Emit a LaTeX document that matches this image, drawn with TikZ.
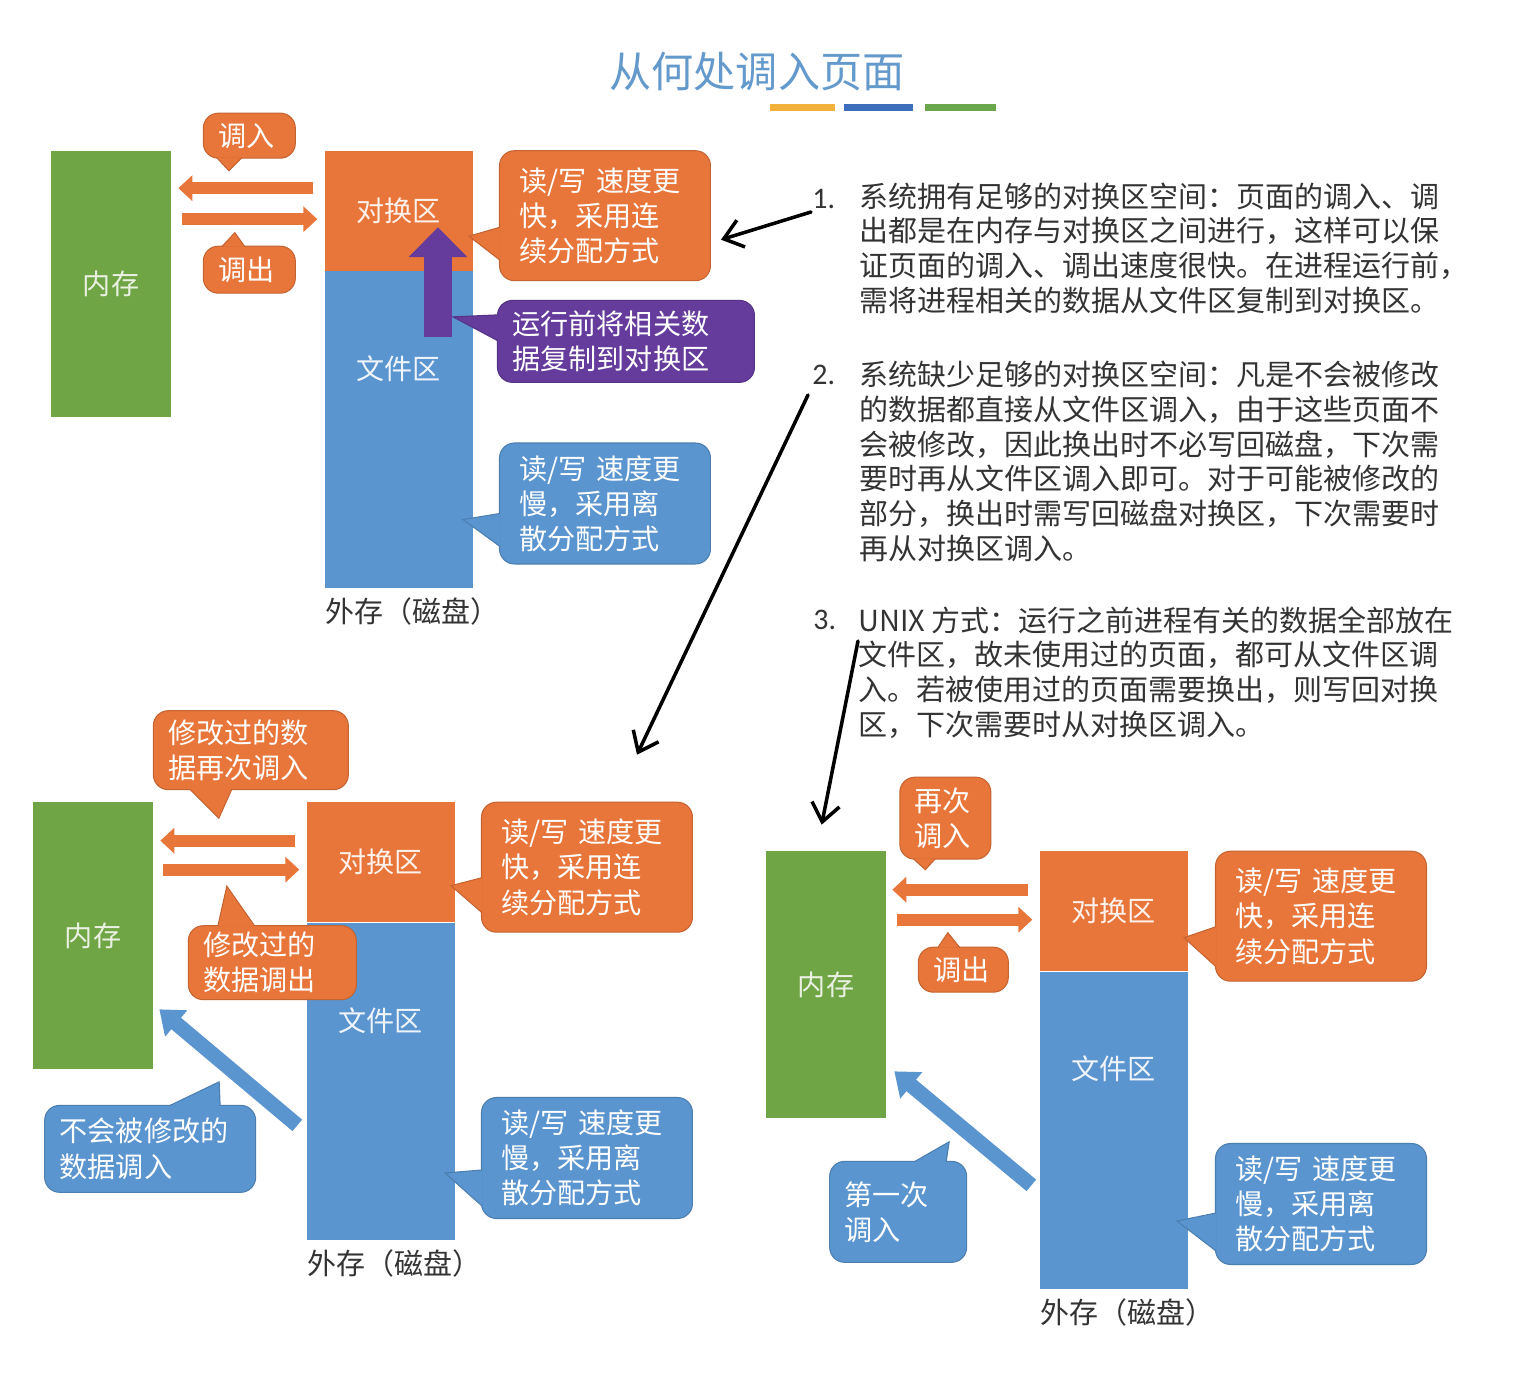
\documentclass[tikz,border=0pt]{standalone}
\usepackage{fontspec}
\setmainfont{Noto Sans CJK SC}
\newfontfamily\numfont{Carlito}
\usetikzlibrary{positioning,arrows.meta,calc}
\definecolor{memgreen}{HTML}{70A545}
\definecolor{swaporange}{HTML}{E8763A}
\definecolor{fileblue}{HTML}{5A95CF}
\definecolor{copypurple}{HTML}{653C9C}
\definecolor{titleblue}{HTML}{6499CC}
\definecolor{bodytext}{HTML}{333333}
\definecolor{baryellow}{HTML}{F2B13A}
\definecolor{barblue}{HTML}{3D6DBB}
\definecolor{bargreen}{HTML}{6AA64B}

\begin{document}
\begin{tikzpicture}[
    x=0.02cm, y=-0.02cm,
    memblock/.style={fill=memgreen, minimum width=2.4cm, minimum height=5.34cm, text=white!85!memgreen, font=\fontsize{16}{19}\selectfont},
    swapblock/.style={fill=swaporange, minimum width=2.96cm, minimum height=2.4cm, text=white!90!swaporange, font=\fontsize{16}{19}\selectfont},
    fileblock/.style={fill=fileblue, minimum width=2.96cm, minimum height=6.34cm},
    filetext/.style={text=white!90!fileblue, font=\fontsize{16}{19}\selectfont},
    disklabel/.style={text=bodytext, font=\fontsize{16.5}{19}\selectfont, xshift=0.28cm},
    note/.style={fill=#1, draw=#1!85!black, line width=0.6pt, rounded corners=3mm, align=left, text=white, font=\fontsize{16}{20}\selectfont, inner xsep=0.3cm, inner ysep=0pt},
    fastnote/.style={note=swaporange, inner xsep=0.4cm, text width=3.42cm, minimum height=2.6cm},
    slownote/.style={note=fileblue, inner xsep=0.4cm, text width=3.42cm, minimum height=2.42cm},
    notetip/.style={fill=#1, draw=#1!85!black, line width=0.6pt},
    moveflat/.style={line width=0.24cm, draw=swaporange, -{Triangle[length=0.28cm, width=0.5cm]}},
    loadslant/.style={line width=0.3cm, draw=fileblue, -{Triangle[length=0.44cm, width=0.66cm]}},
    copyup/.style={line width=0.56cm, draw=copypurple, -{Triangle[length=0.6cm, width=1.14cm]}},
    handarrow/.style={line width=2pt, draw=black, line cap=round, line join=round, -{Straight Barb[length=0.36cm, width=0.56cm]}},
    itemnum/.style={anchor=base west, inner sep=0pt, text=bodytext, font=\numfont\fontsize{17}{20}\selectfont},
    itemtext/.style={anchor=base west, align=left, inner sep=0pt, text=bodytext, font=\fontsize{16.5}{19.7}\selectfont}
]
    \fill[white] (0,0) rectangle (1515,1393);
    \useasboundingbox (0,0) rectangle (1515,1393);

    % Title
    \node[text=titleblue, font=\fontsize{24}{28}\selectfont] (title) at (757,72) {从何处调入页面};
    \fill[baryellow] (770,104) rectangle (835,111);
    \fill[barblue] (844,104) rectangle (913,111);
    \fill[bargreen] (925,104) rectangle (996,111);

    % Panel 1: enough swap space
    \node[memblock] (mem1) at (111,284) {内存};
    \node[swapblock, right=3.06cm of mem1.north east, anchor=north west] (swap1) {对换区};
    \node[fileblock, below=0pt of swap1] (file1) {};
    \node[filetext] (ftext1) at ($(file1.north)+(0,98)$) {文件区};
    \node[disklabel, below=0.06cm of file1] (disk1) {外存（磁盘）};

    \node[fastnote, right=0.52cm of swap1.north east, anchor=north west] (fast1) {读/写 速度更\\快，采用连\\续分配方式};
    \node[slownote, above right=0.48cm and 0.52cm of file1.south east] (slow1) {读/写 速度更\\慢，采用离\\散分配方式};
    \node[note=copypurple, text width=4.54cm, minimum height=1.64cm, below right=0.58cm and 0.48cm of file1.north east] (copy1) {运行前将相关数\\据复制到对换区};
    \node[note=swaporange, text width=1.24cm, minimum height=0.9cm] (in1) at ($(mem1.north east)+(78,-14.5)$) {调入};
    \node[note=swaporange, text width=1.24cm, minimum height=0.94cm] (out1) at ($(mem1.north east)+(78,119.5)$) {调出};

    \filldraw[notetip=swaporange] ($(fast1.north west)+(1,77)$) -- ($(swap1.north east)+(-4,86)$) -- ($(fast1.north west)+(1,110)$);
    \filldraw[notetip=fileblue] ($(slow1.north west)+(1,71)$) -- ($(file1.south east)+(-10,-69)$) -- ($(slow1.north west)+(1,104)$);
    \filldraw[notetip=copypurple] ($(copy1.north west)+(1,15)$) -- ($(file1.north east)+(-20,46)$) -- ($(copy1.north west)+(1,41)$);
    \filldraw[notetip=swaporange] ($(in1.south west)+(14,-1)$) -- ($(in1.south west)+(26,12)$) -- ($(in1.south west)+(39,-1)$);
    \filldraw[notetip=swaporange] ($(out1.north west)+(19,1)$) -- ($(out1.north west)+(32,-13)$) -- ($(out1.north west)+(42,1)$);

    \draw[moveflat] ($(swap1.north west)+(-11,38)$) -- ($(mem1.north east)+(7,38)$);
    \draw[moveflat] ($(mem1.north east)+(11,69)$) -- ($(swap1.north west)+(-7,69)$);
    \draw[copyup] ($(file1.north east)+(-35,66)$) -- ($(swap1.north east)+(-35,77)$);

    % Panel 2: not enough swap space
    \node[memblock] (mem2) at (93,935.5) {内存};
    \node[swapblock, right=3.06cm of mem2.north east, anchor=north west] (swap2) {对换区};
    \node[fileblock, below=0pt of swap2] (file2) {};
    \node[filetext] (ftext2) at ($(file2.north)+(0,98)$) {文件区};
    \node[disklabel, below=0.06cm of file2] (disk2) {外存（磁盘）};

    \node[fastnote, right=0.52cm of swap2.north east, anchor=north west] (fast2) {读/写 速度更\\快，采用连\\续分配方式};
    \node[slownote, above right=0.42cm and 0.52cm of file2.south east] (slow2) {读/写 速度更\\慢，采用离\\散分配方式};
    \node[note=swaporange, text width=3.3cm, minimum height=1.58cm] (reload2) at ($(mem2.north east)+(97.5,-51.5)$) {修改过的数\\据再次调入};
    \node[note=swaporange, text width=2.76cm, minimum height=1.48cm] (evict2) at ($(mem2.north east)+(119,161)$) {修改过的\\数据调出};
    \node[note=fileblue, text width=3.62cm, minimum height=1.74cm] (clean2) at ($(mem2.south west)+(117.5,79.5)$) {不会被修改的\\数据调入};

    \filldraw[notetip=swaporange] ($(fast2.north west)+(1,76)$) -- ($(swap2.north east)+(-4,84)$) -- ($(fast2.north west)+(1,111)$);
    \filldraw[notetip=fileblue] ($(slow2.north west)+(1,73)$) -- ($(file2.south east)+(-10,-67)$) -- ($(slow2.north west)+(1,109)$);
    \filldraw[notetip=swaporange] ($(reload2.south west)+(37,-1)$) -- ($(reload2.south west)+(66,28)$) -- ($(reload2.south west)+(79,-1)$);
    \filldraw[notetip=swaporange] ($(evict2.north west)+(30,1)$) -- ($(evict2.north west)+(39,-39)$) -- ($(evict2.north west)+(67,1)$);
    \filldraw[notetip=fileblue] ($(clean2.north west)+(125,1)$) -- ($(clean2.north west)+(175,-23)$) -- ($(clean2.north west)+(176,1)$);

    \draw[moveflat] ($(swap2.north west)+(-11,39)$) -- ($(mem2.north east)+(7,39)$);
    \draw[moveflat] ($(mem2.north east)+(10,68)$) -- ($(swap2.north west)+(-7,68)$);
    \draw[loadslant] ($(file2.north west)+(-9,203)$) -- ($(mem2.south east)+(6,-60)$);

    % Panel 3: UNIX
    \node[memblock] (mem3) at (826,984.5) {内存};
    \node[swapblock, right=3.06cm of mem3.north east, anchor=north west] (swap3) {对换区};
    \node[fileblock, below=0pt of swap3] (file3) {};
    \node[filetext] (ftext3) at ($(file3.north)+(0,97)$) {文件区};
    \node[disklabel, below=0.06cm of file3] (disk3) {外存（磁盘）};

    \node[fastnote, right=0.54cm of swap3.north east, anchor=north west] (fast3) {读/写 速度更\\快，采用连\\续分配方式};
    \node[slownote, above right=0.48cm and 0.54cm of file3.south east] (slow3) {读/写 速度更\\慢，采用离\\散分配方式};
    \node[note=swaporange, text width=1.22cm, minimum height=1.64cm] (again3) at ($(mem3.north east)+(59,-32.5)$) {再次\\调入};
    \node[note=swaporange, text width=1.2cm, minimum height=0.9cm] (out3) at ($(mem3.north east)+(77,119)$) {调出};
    \node[note=fileblue, text width=2.14cm, minimum height=2.02cm] (first3) at ($(mem3.south west)+(132.5,93.5)$) {第一次\\调入};

    \filldraw[notetip=swaporange] ($(fast3.north west)+(1,76)$) -- ($(swap3.north east)+(-4,87)$) -- ($(fast3.north west)+(1,116)$);
    \filldraw[notetip=fileblue] ($(slow3.north west)+(1,70)$) -- ($(file3.south east)+(-11,-68)$) -- ($(slow3.north west)+(1,108)$);
    \filldraw[notetip=swaporange] ($(again3.south west)+(14,-1)$) -- ($(again3.south west)+(26,10)$) -- ($(again3.south west)+(36,-1)$);
    \filldraw[notetip=swaporange] ($(out3.north west)+(20,1)$) -- ($(out3.north west)+(30,-14)$) -- ($(out3.north west)+(42,1)$);
    \filldraw[notetip=fileblue] ($(first3.north west)+(85,1)$) -- ($(first3.north west)+(120,-19)$) -- ($(first3.north west)+(117,1)$);

    \draw[moveflat] ($(swap3.north west)+(-11,39)$) -- ($(mem3.north east)+(6,39)$);
    \draw[moveflat] ($(mem3.north east)+(11,69)$) -- ($(swap3.north west)+(-7,69)$);
    \draw[loadslant] ($(file3.north west)+(-8,214)$) -- ($(mem3.south east)+(8,-47)$);

    % Explanation text (base = last line)
    \node[itemnum] (num1) at (812,208) {1.};
    \node[itemtext] (item1) at (859,311) {系统拥有足够的对换区空间：页面的调入、调\\出都是在内存与对换区之间进行，这样可以保\\证页面的调入、调出速度很快。在进程运行前，\\需将进程相关的数据从文件区复制到对换区。};
    \node[itemnum] (num2) at (812,384) {2.};
    \node[itemtext] (item2) at (859,559) {系统缺少足够的对换区空间：凡是不会被修改\\的数据都直接从文件区调入，由于这些页面不\\会被修改，因此换出时不必写回磁盘，下次需\\要时再从文件区调入即可。对于可能被修改的\\部分，换出时需写回磁盘对换区，下次需要时\\再从对换区调入。};
    \node[itemnum] (num3) at (813,629) {3.};
    \node[itemtext] (item3) at (858,735) {UNIX 方式：运行之前进程有关的数据全部放在\\文件区，故未使用过的页面，都可从文件区调\\入。若被使用过的页面需要换出，则写回对换\\区，下次需要时从对换区调入。};

    % Pointers from text to panels
    \draw[handarrow] ($(num1.base west)+(-1,4)$) -- ($(fast1.east)+(10,24)$);
    \draw[handarrow] ($(num2.base west)+(-4,11)$) -- ($(fast2.north west)+(156,-47)$);
    \draw[handarrow] ($(num3.base west)+(45,12)$) -- ($(mem3.north west)+(56,-26)$);
\end{tikzpicture}
\end{document}
